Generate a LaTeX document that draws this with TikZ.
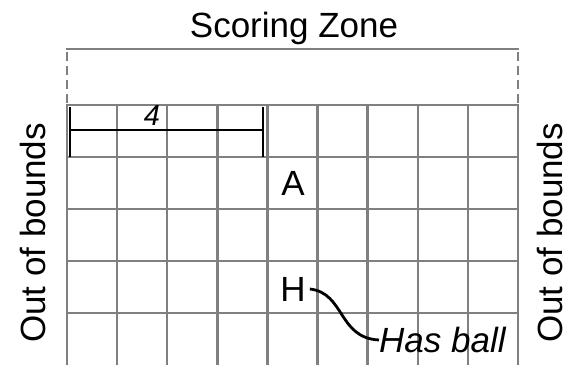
\documentclass[tikz,border=0pt]{standalone}
\usepackage{fontspec}
\setmainfont{Liberation Sans}
\begin{document}
\begin{tikzpicture}[x=1pt,y=-1pt,
  gridline/.style={draw=black!50,line width=2.4pt},
  zoneline/.style={draw=black!50,line width=2.6pt},
  dashline/.style={draw=black!50,line width=1.8pt,dash pattern=on 9pt off 5pt},
  ruler/.style={draw=black,line width=2.5pt},
  bigtext/.style={font=\fontsize{35}{40}\selectfont,inner sep=0pt},
  rulerlabel/.style={font=\fontsize{29}{34}\selectfont\itshape,inner sep=0pt}]
\useasboundingbox (0,0) rectangle (570,364);
\begin{scope}
\clip (0,0) rectangle (570,364);
% grid
\foreach \i in {0,...,9} {
  \draw[gridline] ({67+50.1*\i},105) -- ({67+50.1*\i},370);
}
\foreach \j in {0,...,4} {
  \draw[gridline] (66,{105+52*\j}) -- (519,{105+52*\j});
}
\end{scope}
% scoring zone
\coordinate (zl) at (66,49);
\coordinate (zr) at (519,49);
\coordinate (zlb) at (67,104);
\coordinate (zrb) at (518,104);
\draw[zoneline] (zl) -- (zr);
\draw[dashline] (67,52) -- (zlb);
\draw[dashline] (518,52) -- (zrb);
\node[bigtext] (sz) at (294,28) {Scoring Zone};
% ruler
\coordinate (r1) at (70,130);
\coordinate (r2) at (263,130);
\coordinate (r1t) at (70,107);
\coordinate (r1b) at (70,157);
\coordinate (r2t) at (263,107);
\coordinate (r2b) at (263,157);
\draw[ruler] (r1) -- (r2);
\draw[ruler] (r1t) -- (r1b);
\draw[ruler] (r2t) -- (r2b);
\node[rulerlabel] (four) at (152,116) {4};
% side labels
\node[bigtext,rotate=90] (oobl) at (33,233) {Out of bounds};
\node[bigtext,rotate=90] (oobr) at (550,233) {Out of bounds};
% players
\node[bigtext] (A) at (293,183) {A};
\node[bigtext] (H) at (293,289) {H};
\node[bigtext,anchor=west,font=\fontsize{35}{40}\selectfont\itshape] (hb) at (379,340) {Has ball};
\draw[ruler,line width=2.8pt] ([xshift=4pt]H.east) .. controls (345,293) and (338,338) .. (hb.west);
\end{tikzpicture}
\end{document}
